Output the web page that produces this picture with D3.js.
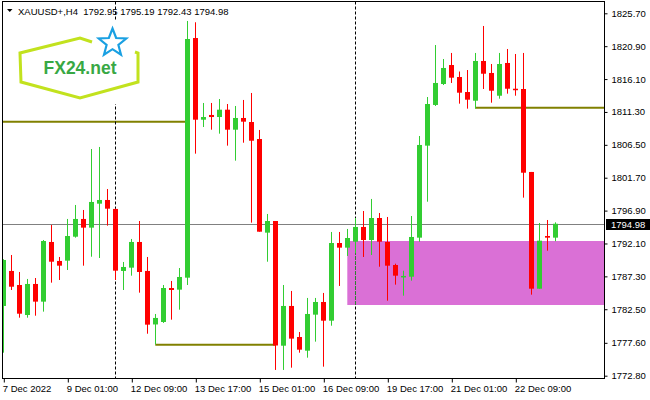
<!DOCTYPE html>
<html><head><meta charset="utf-8">
<script src="https://cdn.jsdelivr.net/npm/d3@7"></script>
<style>body{margin:0;background:#fff}svg{display:block}text{font-family:"Liberation Sans",Arial,sans-serif}</style>
</head><body><svg id="c" width="650" height="400"></svg>
<script>
// ---------- data ----------
const symbolInfo = "XAUUSD+,H4";
const lastOHLC = [1792.95, 1795.19, 1792.43, 1794.98];
const open  = [1782.98,1788.09,1786.04,1781.66,1786.19,1783.61,1792.32,1789.55,1789.59,1793.09,
               1795.68,1794.41,1797.91,1798.45,1797.14,1788.09,1788.57,1792.32,1788.09,1780.28,
               1780.64,1785.60,1785.36,1787.11,1822.09,1810.17,1810.86,1810.56,1811.63,1808.71,
               1810.42,1809.83,1807.35,1793.68,1795.38,1777.18,1782.98,1778.45,1776.45,1781.71,
               1783.56,1780.83,1792.17,1791.49,1792.36,1794.51,1792.61,1795.82,1792.32,1788.96,
               1787.21,1787.25,1792.95,1806.38,1812.32,1815.38,1818.15,1816.40,1814.21,1812.94,
               1818.74,1816.99,1813.67,1818.45,1814.69,1814.65,1802.54,1785.50,1793.19,1792.95];
const high  = [1789.80,1790.42,1787.94,1786.92,1787.06,1792.61,1794.80,1790.13,1795.68,1797.72,
               1796.99,1805.89,1806.19,1800.05,1797.20,1789.40,1792.76,1795.38,1790.13,1781.81,
               1786.04,1786.63,1788.52,1824.58,1824.39,1812.61,1812.61,1813.19,1812.46,1812.17,
               1813.05,1814.07,1808.67,1796.41,1795.38,1786.04,1785.17,1779.18,1784.15,1784.15,
               1784.88,1793.78,1793.78,1794.22,1795.82,1796.84,1798.60,1796.55,1795.97,1789.15,
               1788.13,1796.11,1807.79,1813.48,1821.07,1819.03,1819.91,1817.20,1817.42,1819.91,
               1823.85,1818.30,1819.91,1820.49,1819.76,1819.91,1802.54,1795.09,1795.53,1795.19];
const low   = [1776.16,1785.31,1781.27,1781.27,1781.56,1782.15,1786.38,1786.77,1788.23,1792.95,
               1788.86,1790.17,1789.98,1794.70,1786.77,1785.31,1787.40,1784.92,1778.93,1777.36,
               1780.50,1780.98,1782.44,1786.04,1805.21,1809.10,1808.71,1808.13,1806.38,1804.19,
               1806.81,1795.14,1793.82,1789.44,1773.64,1773.64,1773.97,1776.16,1775.43,1777.77,
               1774.12,1780.10,1785.90,1790.28,1790.71,1790.13,1790.42,1788.71,1783.75,1786.09,
               1784.48,1786.67,1792.36,1798.20,1812.17,1815.23,1815.53,1812.51,1811.78,1811.78,
               1814.65,1812.65,1813.24,1813.97,1813.67,1798.79,1784.63,1785.50,1791.05,1792.43];
const close = [1789.69,1785.79,1781.85,1786.19,1783.61,1792.46,1789.44,1788.86,1793.19,1795.68,
               1794.41,1798.16,1798.45,1797.18,1788.13,1788.67,1792.32,1787.94,1780.25,1781.23,
               1785.60,1785.31,1787.21,1821.95,1810.17,1810.56,1810.56,1811.63,1808.71,1810.42,
               1809.88,1807.10,1793.82,1795.38,1777.21,1782.98,1778.21,1776.60,1781.81,1783.56,
               1780.83,1792.17,1791.49,1792.90,1794.51,1792.61,1795.82,1792.36,1788.86,1787.40,
               1787.36,1793.05,1806.48,1812.46,1815.53,1817.72,1816.30,1814.11,1813.09,1818.74,
               1816.88,1814.40,1818.30,1814.69,1814.58,1802.43,1785.50,1792.51,1792.95,1794.98];
const timeTickIndex  = [0, 8, 16, 24, 32, 40, 48, 56, 64];
const timeTickLabels = ["7 Dec 2022","9 Dec 01:00","12 Dec 09:00","13 Dec 17:00","15 Dec 01:00",
                        "16 Dec 09:00","19 Dec 17:00","21 Dec 01:00","22 Dec 09:00"];
const priceTicks = [1825.70,1820.90,1816.10,1811.30,1806.50,1801.70,1796.90,1792.10,1787.30,1782.50,1777.60,1772.80];
const currentPrice = 1794.98;
const separatorIndex = [14, 44];
const levelPrice = [1809.88, 1777.33, 1811.92];
const levelStart = [-2, 19, 59];
const levelEnd   = [23, 34, 80];
const zoneTop = 1792.46, zoneBottom = 1783.12, zoneStart = 43, zoneEnd = 80;
const logoText = "FX24.net";

// ---------- layout ----------
const svg = d3.select("#c");
const L = 2.5, T = 1.5, R = 604.5, B = 378.5;
const x = d3.scaleLinear().domain([0, 69]).range([3.3, 555.3]);
const y = d3.scaleLinear().domain([1772.80, 1825.70]).range([375.7, 13.3]);
const GREEN = "#32cd32", RED = "#ff0000";

svg.append("defs").append("clipPath").attr("id","plot")
  .append("rect").attr("x", L).attr("y", T).attr("width", R - L).attr("height", B - T);
const plot = svg.append("g").attr("clip-path","url(#plot)");

// zone
plot.append("rect")
  .attr("x", x(zoneStart)).attr("y", y(zoneTop))
  .attr("width", x(zoneEnd) - x(zoneStart)).attr("height", y(zoneBottom) - y(zoneTop))
  .attr("fill", "#da70d6");

// level lines
plot.selectAll("line.level").data(levelPrice).join("line").attr("class","level")
  .attr("x1", (d,i) => x(levelStart[i])).attr("x2", (d,i) => x(levelEnd[i]))
  .attr("y1", d => y(d)).attr("y2", d => y(d))
  .attr("stroke", "#808000").attr("stroke-width", 2);

// current price line
plot.append("line").attr("x1", L).attr("x2", R)
  .attr("y1", Math.round(y(currentPrice)) + 0.5).attr("y2", Math.round(y(currentPrice)) + 0.5)
  .attr("stroke", "#808080").attr("stroke-width", 1);

// separators
separatorIndex.forEach(i => {
  const sx = Math.round(x(i)) + 0.5;
  plot.append("line").attr("x1", sx).attr("x2", sx).attr("y1", T).attr("y2", B)
    .attr("stroke", "#000").attr("stroke-width", 1).attr("stroke-dasharray", "3,2");
  if (i >= zoneStart) {
    plot.append("line").attr("x1", sx).attr("x2", sx).attr("y1", y(zoneTop)).attr("y2", y(zoneBottom))
      .attr("stroke", "#258f29").attr("stroke-width", 1).attr("stroke-dasharray", "3,2")
      .attr("stroke-dashoffset", (y(zoneTop) - T) % 5);
  }
});

// candles
const idx = d3.range(open.length);
const col = i => close[i] >= open[i] ? GREEN : RED;
plot.selectAll("line.wick").data(idx).join("line").attr("class","wick")
  .attr("x1", i => Math.round(x(i)) + 0.5).attr("x2", i => Math.round(x(i)) + 0.5)
  .attr("y1", i => y(high[i])).attr("y2", i => y(low[i]))
  .attr("stroke", col).attr("stroke-width", 1);
plot.selectAll("rect.body").data(idx).join("rect").attr("class","body")
  .attr("x", i => Math.round(x(i)) - 2).attr("width", 5)
  .attr("y", i => y(Math.max(open[i], close[i])))
  .attr("height", i => Math.max(1.5, Math.abs(y(open[i]) - y(close[i]))))
  .attr("fill", col);

// logo
const logo = svg.append("g");
logo.append("rect").attr("x", 14).attr("y", 20).attr("width", 132).attr("height", 84).attr("fill", "#fff");
logo.append("path")
  .attr("d", "M92,42 L80,38 L20,53 L21,82 L80,98 L138,82 L138,53 L135,52")
  .attr("fill", "none").attr("stroke", "#c2e21e").attr("stroke-width", 3).attr("stroke-linejoin", "miter");
const starPts = d3.range(10).map(k => {
  const a = -Math.PI/2 + k * Math.PI/5, r = k % 2 ? 6.2 : 14.5;
  return [112.5 + r*Math.cos(a), 43 + r*Math.sin(a)];
});
logo.append("path").attr("d", "M" + starPts.join("L") + "Z")
  .attr("fill", "none").attr("stroke", "#1aa0e2").attr("stroke-width", 2.2).attr("stroke-linejoin","miter");
logo.append("text").attr("x", 80).attr("y", 73.5).attr("text-anchor","middle")
  .attr("font-size", 17.5).attr("font-weight", "bold").attr("fill", "#38a844").text(logoText);

// frame
svg.append("rect").attr("x", L).attr("y", T).attr("width", R - L).attr("height", B - T)
  .attr("fill", "none").attr("stroke", "#000").attr("stroke-width", 1);

// price axis
const ya = svg.append("g").attr("transform", `translate(${R},0)`)
  .call(d3.axisRight(y).tickValues(priceTicks).tickFormat(d3.format(".2f")).tickSize(3).tickPadding(4));
ya.select(".domain").remove();
ya.selectAll("text").attr("font-size", 9.5).attr("font-family", "Liberation Sans, Arial, sans-serif").attr("fill", "#000");
ya.selectAll("line").attr("stroke", "#000");

// current price label
const cy = Math.round(y(currentPrice)) + 0.5;
svg.append("rect").attr("x", 606).attr("y", cy - 5.5).attr("width", 44).attr("height", 11).attr("fill", "#000");
svg.append("text").attr("x", 611).attr("y", cy).attr("dy", "0.35em").attr("font-size", 9.5)
  .attr("fill", "#fff").text(d3.format(".2f")(currentPrice));

// time axis
const xa = svg.append("g").attr("transform", `translate(0,${B})`)
  .call(d3.axisBottom(x).tickValues(timeTickIndex).tickFormat((d,i) => timeTickLabels[i]).tickSize(4).tickPadding(3));
xa.select(".domain").remove();
xa.selectAll("text").attr("text-anchor","start").attr("dx", -1).attr("font-size", 9.5)
  .attr("font-family", "Liberation Sans, Arial, sans-serif").attr("fill", "#000");
xa.selectAll(".tick line").attr("stroke", "#000").attr("transform", "translate(0.5,0)");

// header
svg.append("path").attr("d", "M7,9 L12.5,9 L9.75,12 Z").attr("fill", "#000");
svg.append("text").attr("x", 18).attr("y", 14.5).attr("font-size", 9.5).attr("fill", "#000")
  .style("white-space", "pre")
  .text(symbolInfo + "  " + lastOHLC.map(d3.format(".2f")).join(" "));
</script></body></html>
